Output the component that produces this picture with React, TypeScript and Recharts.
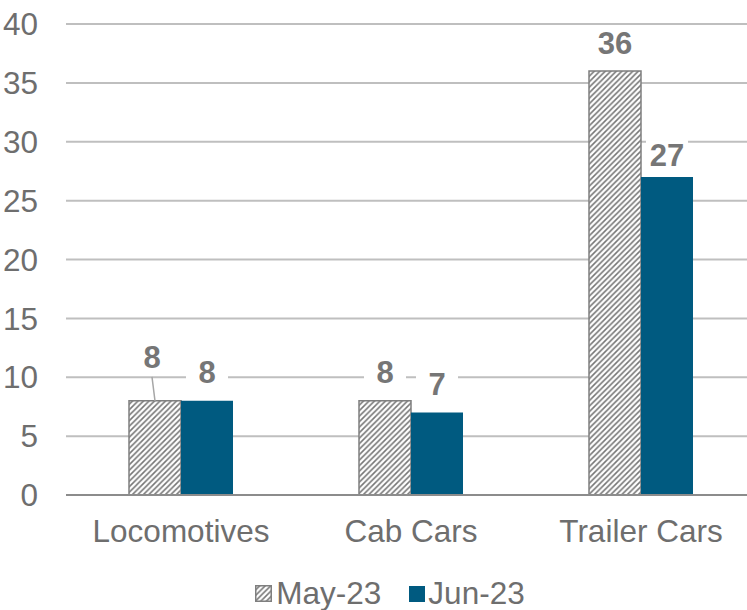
import { Bar, BarChart, CartesianGrid, LabelList, Legend, XAxis, YAxis } from "recharts";

const categories = ["Locomotives", "Cab Cars", "Trailer Cars"];
const may23 = [8, 8, 36];
const jun23 = [8, 7, 27];
const yTicks = [0, 5, 10, 15, 20, 25, 30, 35, 40];

const chartData = categories.map((name, i) => ({ name, may: may23[i], jun: jun23[i] }));

const GREY_TEXT = "#6e6e6e";
const LABEL_TEXT = "#767676";
const BLUE = "#005a80";
const FONT = "'Liberation Sans', Arial, sans-serif";

// small per-label nudges, Excel moved a couple of them
const labelShift: Record<string, { dx: number; dy: number; leader?: boolean }> = {
    "may-0": { dx: -3, dy: -15, leader: true },
    "jun-2": { dx: 0, dy: 6 },
};

function makeLabel(series: string) {
    return (props: any) => {
        const { x, y, width, value, index } = props;
        const shift = labelShift[`${series}-${index}`] || { dx: 0, dy: 0 };
        const cx = x + width / 2 + shift.dx;
        const cy = y - 28 + shift.dy;
        const w = 42;
        const h = 30;
        return (
            <g>
                <rect x={cx - w / 2} y={cy - h / 2} width={w} height={h} fill="#fff" />
                {shift.leader && (
                    <line x1={cx} y1={cy + 19} x2={x + width / 2} y2={y} stroke="#a6a6a6" strokeWidth={1.5} />
                )}
                <text
                    x={cx}
                    y={cy}
                    textAnchor="middle"
                    dominantBaseline="central"
                    fill={LABEL_TEXT}
                    fontSize={31}
                    fontWeight="bold"
                    fontFamily={FONT}
                >
                    {value}
                </text>
            </g>
        );
    };
}

function ChartLegend() {
    return (
        <div
            style={{
                display: "flex",
                justifyContent: "center",
                alignItems: "center",
                height: 55,
                paddingTop: 22,
                paddingLeft: 24,
                boxSizing: "border-box",
                fontFamily: FONT,
                fontSize: 31.5,
                color: GREY_TEXT,
            }}
        >
            <svg width={17} height={17} style={{ marginRight: 4 }}>
                <rect x={0.75} y={0.75} width={15.5} height={15.5} fill="url(#hatch)" stroke="#7f7f7f" strokeWidth={1.5} />
            </svg>
            <span style={{ marginRight: 28 }}>May-23</span>
            <svg width={16} height={16} style={{ marginRight: 3 }}>
                <rect x={0} y={0} width={16} height={16} fill={BLUE} />
            </svg>
            <span>Jun-23</span>
        </div>
    );
}

export default function App() {
    return (
        <div style={{ position: "absolute", left: 0, top: 0, width: 747, height: 610, overflow: "hidden", background: "#fff" }}>
            <BarChart
                width={756}
                height={610}
                data={chartData}
                margin={{ top: 24, right: 0, left: 0, bottom: 0 }}
                barCategoryGap={63}
                barGap={0}
            >
                <defs>
                    <pattern id="hatch" width={5.5} height={5.5} patternUnits="userSpaceOnUse">
                        <rect width={5.5} height={5.5} fill="#fff" />
                        <path d="M0,5.5 L5.5,0 M-1.5,1.5 L1.5,-1.5 M4,7 L7,4" stroke="#777" strokeWidth={1.6} />
                    </pattern>
                </defs>
                <CartesianGrid vertical={false} stroke="#bfbfbf" strokeWidth={2} />
                <XAxis
                    dataKey="name"
                    axisLine={{ stroke: "#8c8c8c", strokeWidth: 2 }}
                    tickLine={false}
                    tickSize={0}
                    tickMargin={25}
                    height={60}
                    tick={{ fill: GREY_TEXT, fontSize: 31.5, fontFamily: FONT }}
                />
                <YAxis
                    domain={[0, 40]}
                    ticks={yTicks}
                    axisLine={false}
                    tickLine={false}
                    tickSize={0}
                    tickMargin={28}
                    width={66}
                    tick={{ fill: GREY_TEXT, fontSize: 31.5, fontFamily: FONT }}
                />
                <Legend verticalAlign="bottom" height={55} content={() => <ChartLegend />} />
                <Bar dataKey="may" name="May-23" fill="url(#hatch)" stroke="#7f7f7f" strokeWidth={1.5} isAnimationActive={false}>
                    <LabelList dataKey="may" content={makeLabel("may")} />
                </Bar>
                <Bar dataKey="jun" name="Jun-23" fill={BLUE} isAnimationActive={false}>
                    <LabelList dataKey="jun" content={makeLabel("jun")} />
                </Bar>
            </BarChart>
        </div>
    );
}
